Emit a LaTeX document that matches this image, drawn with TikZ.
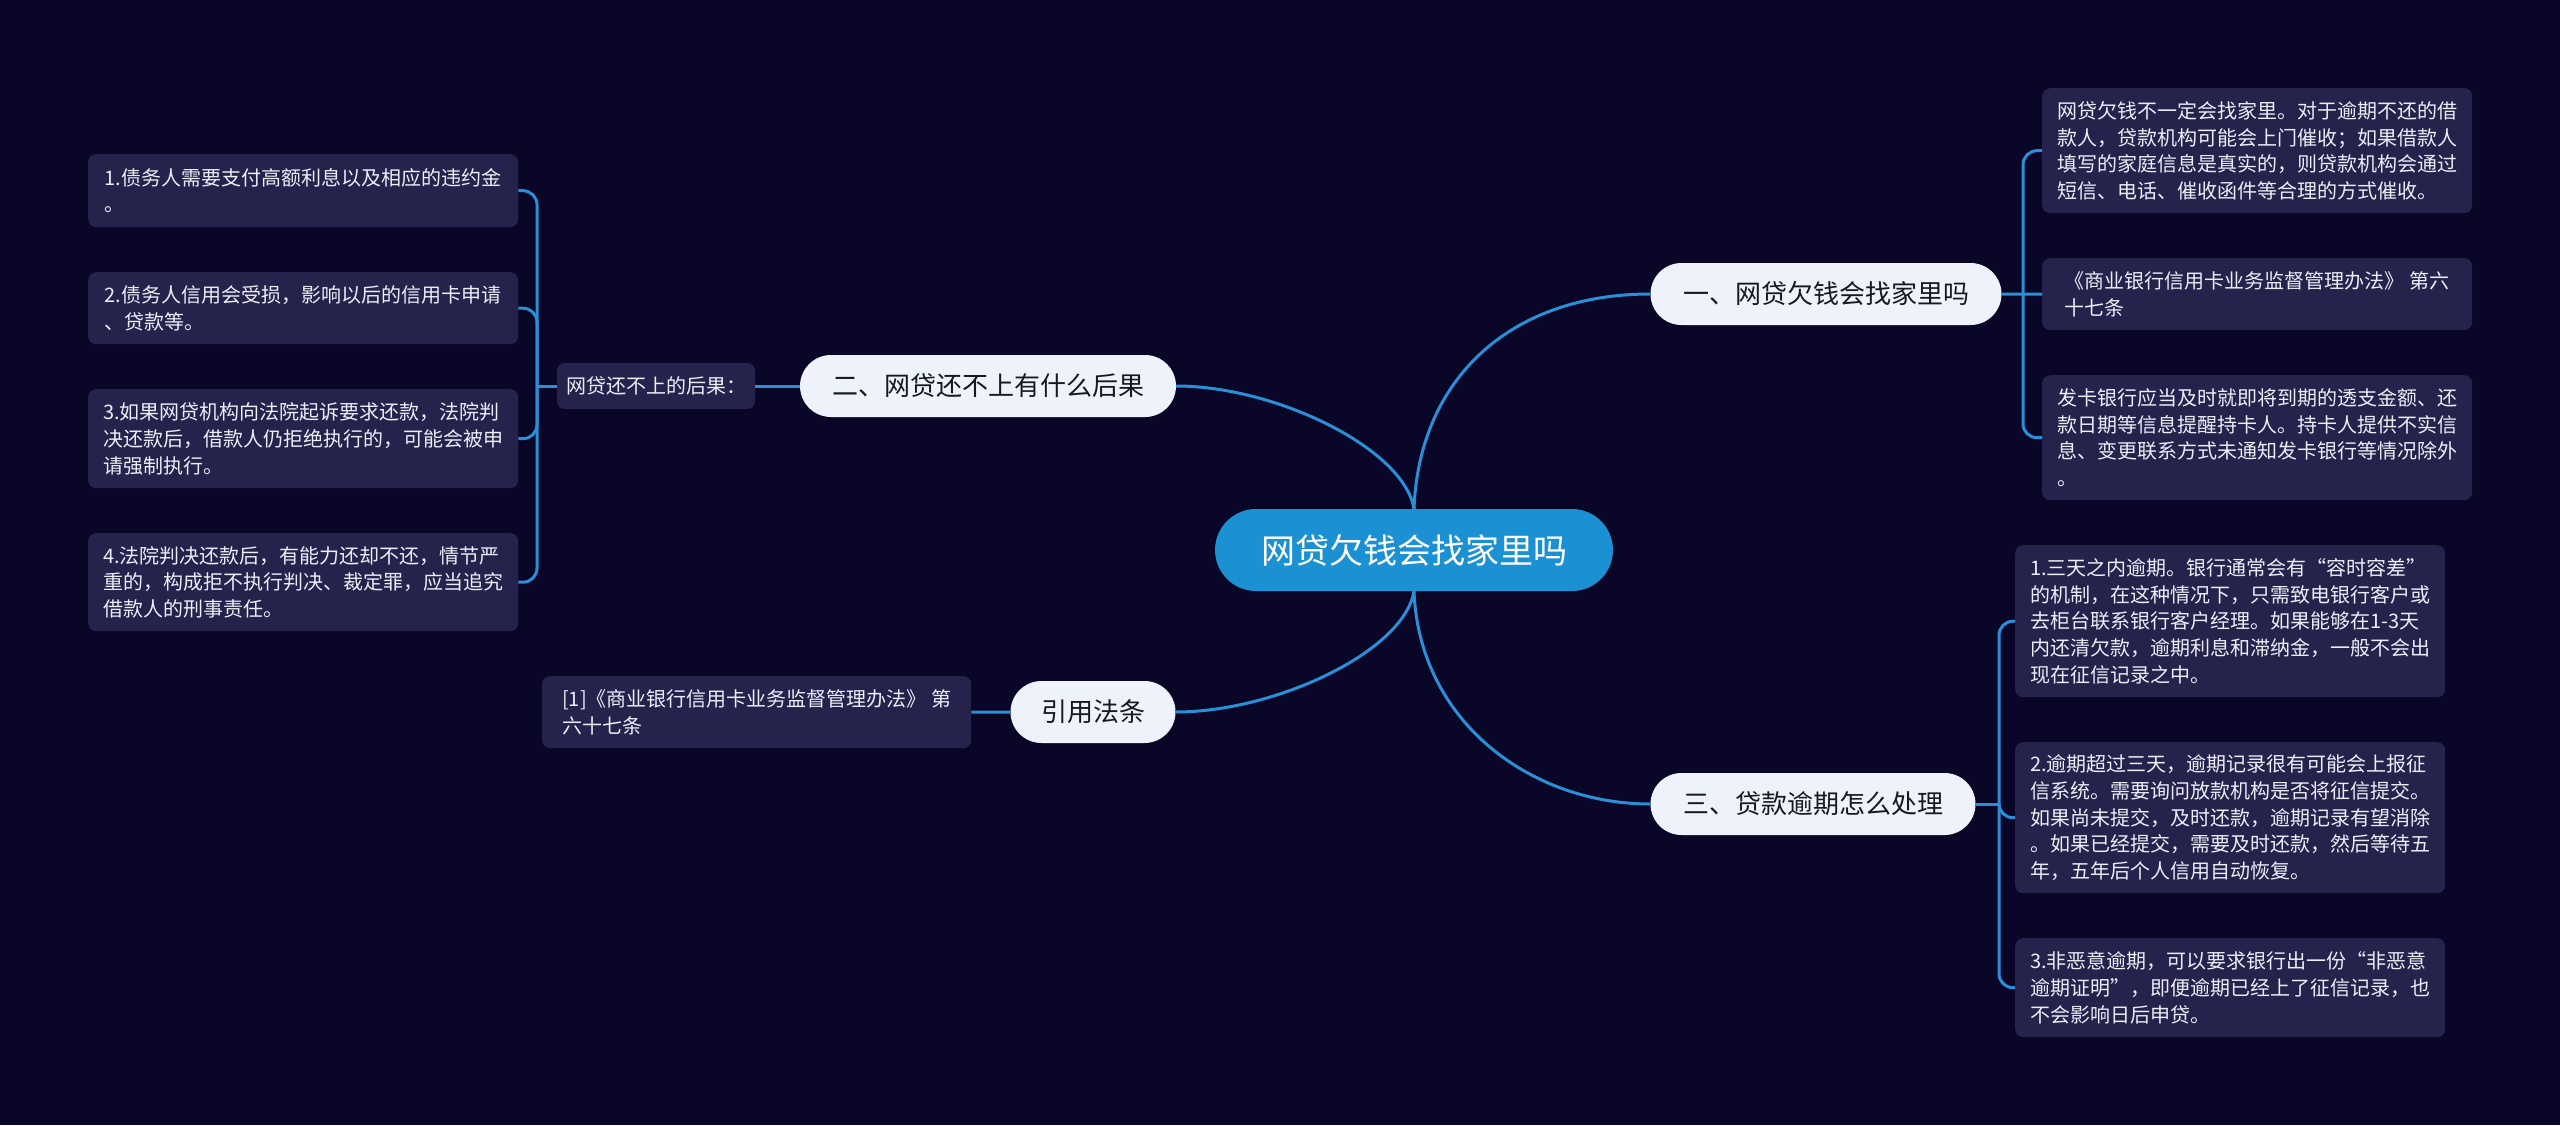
\documentclass[tikz,border=0pt]{standalone}
\usepackage{fontspec}
\setmainfont{Noto Sans CJK SC}
\usepackage{tikz}
\usetikzlibrary{positioning}
\definecolor{bgnd}{RGB}{10,6,40}
\definecolor{wire}{RGB}{42,143,214}
\definecolor{hub}{RGB}{27,145,211}
\definecolor{pill}{RGB}{238,243,251}
\definecolor{card}{RGB}{37,35,76}
\definecolor{ink}{RGB}{24,24,30}
\definecolor{paper}{RGB}{236,238,246}

\begin{document}
\begin{tikzpicture}[x=1pt, y=-1pt,
  link/.style={wire, line width=3pt},
  elbow/.style={link, rounded corners=14pt},
  hubnode/.style={fill=hub, text=white, rounded corners=41pt, minimum width=398pt,
    minimum height=82pt, inner sep=0pt, font=\fontsize{34}{40}\selectfont},
  topic/.style={fill=pill, text=ink, rounded corners=31pt, minimum height=62pt,
    inner sep=0pt, font=\fontsize{26}{30}\selectfont},
  leaf/.style={fill=card, text=paper, rounded corners=8pt, minimum width=430pt,
    align=left, inner sep=0pt, anchor=north west, font=\fontsize{20}{26.7}\selectfont}]
\fill[bgnd] (0,0) rectangle (2560,1125);
% ---- root and main topics
\node[hubnode] (root) at (1414,550) {网贷欠钱会找家里吗};
\node[topic, minimum width=351pt] (b1) at (1826,294) {一、网贷欠钱会找家里吗};
\node[topic, minimum width=376pt] (b2) at (988,386) {二、网贷还不上有什么后果};
\node[topic, minimum width=325pt] (b3) at (1813,804) {三、贷款逾期怎么处理};
\node[topic, minimum width=165pt] (b4) at (1093,712) {引用法条};
% ---- right top: 一
\node[leaf, minimum height=125pt] (r1) at (2042,88)
  {网贷欠钱不一定会找家里。对于逾期不还的借\\款人，贷款机构可能会上门催收；如果借款人\\填写的家庭信息是真实的，则贷款机构会通过\\短信、电话、催收函件等合理的方式催收。};
\node[leaf, minimum height=72pt] (r2) at (2042,258)
  {《商业银行信用卡业务监督管理办法》 第六\\十七条};
\node[leaf, minimum height=125pt] (r3) at (2042,375)
  {发卡银行应当及时就即将到期的透支金额、还\\款日期等信息提醒持卡人。持卡人提供不实信\\息、变更联系方式未通知发卡银行等情况除外\\。};
% ---- right bottom: 三
\node[leaf, minimum height=152pt] (r4) at (2015,545)
  {1.三天之内逾期。银行通常会有“容时容差”\\的机制，在这种情况下，只需致电银行客户或\\去柜台联系银行客户经理。如果能够在1-3天\\内还清欠款，逾期利息和滞纳金，一般不会出\\现在征信记录之中。};
\node[leaf, minimum height=151pt] (r5) at (2015,742)
  {2.逾期超过三天，逾期记录很有可能会上报征\\信系统。需要询问放款机构是否将征信提交。\\如果尚未提交，及时还款，逾期记录有望消除\\。如果已经提交，需要及时还款，然后等待五\\年，五年后个人信用自动恢复。};
\node[leaf, minimum height=99pt] (r6) at (2015,938)
  {3.非恶意逾期，可以要求银行出一份“非恶意\\逾期证明”，即便逾期已经上了征信记录，也\\不会影响日后申贷。};
% ---- left: 二
\node[leaf, anchor=center, minimum width=198pt, minimum height=46pt] (lbl) at (656,386)
  {网贷还不上的后果：};
\node[leaf, minimum height=73pt] (l1) at (88,154)
  {1.债务人需要支付高额利息以及相应的违约金\\。};
\node[leaf, minimum height=72pt] (l2) at (88,272)
  {2.债务人信用会受损，影响以后的信用卡申请\\、贷款等。};
\node[leaf, minimum height=99pt] (l3) at (88,389)
  {3.如果网贷机构向法院起诉要求还款，法院判\\决还款后，借款人仍拒绝执行的，可能会被申\\请强制执行。};
\node[leaf, minimum height=98pt] (l4) at (88,533)
  {4.法院判决还款后，有能力还却不还，情节严\\重的，构成拒不执行判决、裁定罪，应当追究\\借款人的刑事责任。};
% ---- left: citation
\node[leaf, minimum width=429pt, minimum height=72pt] (cite) at (542,676)
  {[1]《商业银行信用卡业务监督管理办法》 第\\六十七条};
% ---- connectors
\coordinate (jl) at (537,386);
\coordinate (jr1) at (2023,294);
\coordinate (jr2) at (1999,804);
\draw[link] (root.north) .. controls +(5,-130) and +(-140,0) .. (b1.west);
\draw[link] (root.south) .. controls +(5,130) and +(-120,0) .. (b3.west);
\draw[link] (root.north) .. controls +(-10,-60) and +(100,0) .. (b2.east);
\draw[link] (root.south) .. controls +(-10,60) and +(100,0) .. (b4.east);
\draw[link] (b2.west) -- (lbl.east);
\draw[link] (lbl.west) -- (jl);
\foreach \n in {l1,l2,l3,l4} \draw[elbow] (jl) |- (\n.east);
\draw[link] (b1.east) -- (r2.west);
\foreach \n in {r1,r3} \draw[elbow] (jr1) |- (\n.west);
\draw[link] (b3.east) -- (jr2);
\foreach \n in {r4,r5,r6} \draw[elbow] (jr2) |- (\n.west);
\draw[link] (b4.west) -- (cite.east);
\end{tikzpicture}
\end{document}
